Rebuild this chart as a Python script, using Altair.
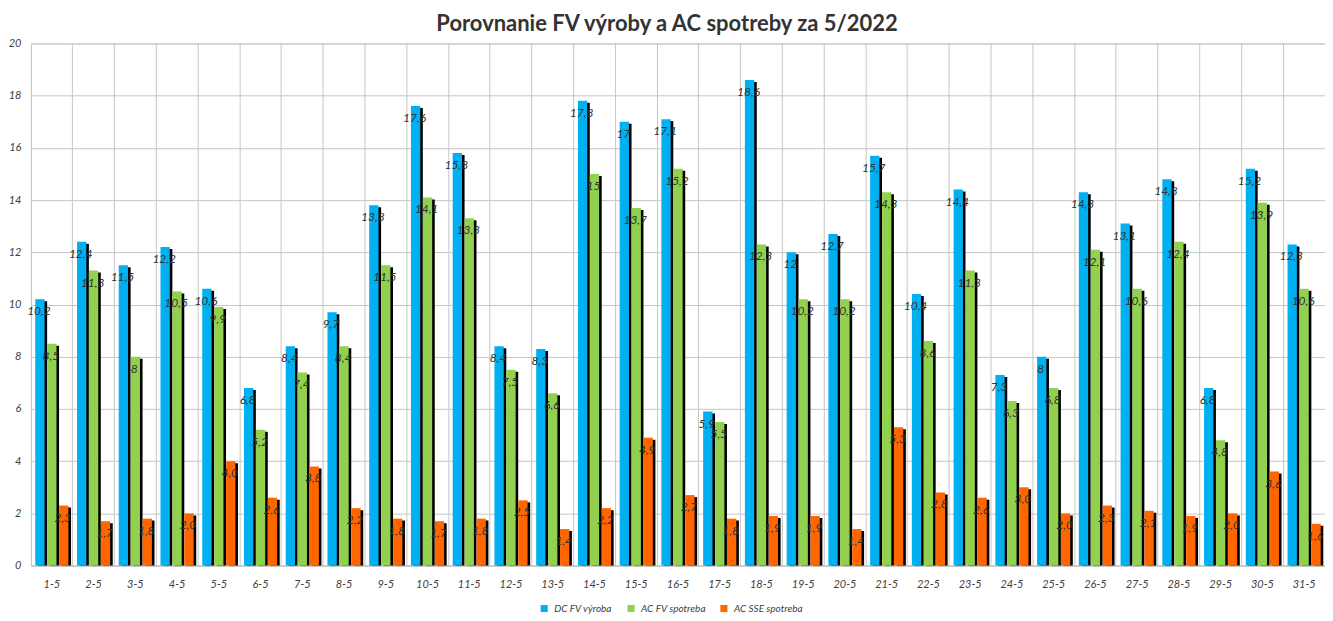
import altair as alt
import pandas as pd

days = [f"{i}-5" for i in range(1, 32)]
dc_fv = [10.2, 12.4, 11.5, 12.2, 10.6, 6.8, 8.4, 9.7, 13.8, 17.6, 15.8, 8.4, 8.3, 17.8, 17, 17.1,
         5.9, 18.6, 12, 12.7, 15.7, 10.4, 14.4, 7.3, 8, 14.3, 13.1, 14.8, 6.8, 15.2, 12.3]
ac_fv = [8.5, 11.3, 8, 10.5, 9.9, 5.2, 7.4, 8.4, 11.5, 14.1, 13.3, 7.5, 6.6, 15, 13.7, 15.2,
         5.5, 12.3, 10.2, 10.2, 14.3, 8.6, 11.3, 6.3, 6.8, 12.1, 10.6, 12.4, 4.8, 13.9, 10.6]
ac_sse = [2.3, 1.7, 1.8, 2.0, 4.0, 2.6, 3.8, 2.2, 1.8, 1.7, 1.8, 2.5, 1.4, 2.2, 4.9, 2.7,
          1.8, 1.9, 1.9, 1.4, 5.3, 2.8, 2.6, 3.0, 2.0, 2.3, 2.1, 1.9, 2.0, 3.6, 1.6]
series = ["DC FV výroba", "AC FV spotreba", "AC SSE spotreba"]
colors = ["#00b0f0", "#92d050", "#ff6600"]

rows = []
for i, d in enumerate(days):
    for s, vals in zip(series, [dc_fv, ac_fv, ac_sse]):
        v = vals[i]
        lab = f"{v:.1f}" if s == "AC SSE spotreba" else f"{v:g}"
        rows.append({"day": d, "series": s, "value": v, "label": lab.replace(".", ",")})
df = pd.DataFrame(rows)

FONT = "Lato"
x_enc = alt.X("day:N", sort=days, title=None,
              scale=alt.Scale(paddingInner=0, paddingOuter=0),
              axis=alt.Axis(grid=True, bandPosition=0, gridColor="#c6c6c6", ticks=False,
                            domain=True, domainColor="#c6c6c6", labelAngle=0,
                            labelFont=FONT, labelFontStyle="italic", labelFontSize=11,
                            labelColor="#404040", labelPadding=13))
y_enc = alt.Y("value:Q", title=None,
              scale=alt.Scale(domain=[0, 20], nice=False),
              axis=alt.Axis(values=list(range(0, 21, 2)), gridColor="#c6c6c6", ticks=False,
                            domain=False, labelFont=FONT, labelFontStyle="italic",
                            labelFontSize=11, labelColor="#404040", labelPadding=10))

xo_main = alt.XOffset("series:N", sort=series,
                      scale=alt.Scale(paddingInner=0.22, paddingOuter=0.36, align=0.5))
xo_shadow = alt.XOffset("series:N", sort=series,
                        scale=alt.Scale(paddingInner=0.22, paddingOuter=0.36, align=0.8))

shadow = alt.Chart(df).mark_bar(color="black", yOffset=2, y2Offset=2, clip=True).encode(
    x=x_enc, xOffset=xo_shadow, y=y_enc)

base = alt.Chart(df).encode(x=x_enc, xOffset=xo_main, y=y_enc)
bars = base.mark_bar().encode(
    color=alt.Color("series:N", sort=series,
                    scale=alt.Scale(domain=series, range=colors),
                    legend=alt.Legend(title=None, orient="none", direction="horizontal",
                                      legendX=509, legendY=561, symbolType="square",
                                      symbolSize=50, symbolStrokeWidth=0,
                                      labelFont=FONT, labelFontStyle="italic",
                                      labelFontSize=10, labelColor="#404040",
                                      labelOffset=5, columnPadding=13))
)
text = base.mark_text(font=FONT, fontStyle="italic", fontSize=12, color="#333333",
                      dy=12, dx=-1, baseline="middle").encode(text="label:N")

front = alt.layer(bars, text)

chart = alt.layer(shadow, front).resolve_scale(xOffset="independent").properties(
    width=1296, height=523,
    padding={"left": 0, "top": 5, "right": 0, "bottom": 0},
    title=alt.Title("Porovnanie FV výroby a AC spotreby za 5/2022", font=FONT,
                    fontSize=22, fontWeight="bold", color="#333333", offset=1, dx=-11),
).configure_view(stroke="#c6c6c6")

chart.save("out.html", embed_options={"renderer": "svg", "actions": False})
